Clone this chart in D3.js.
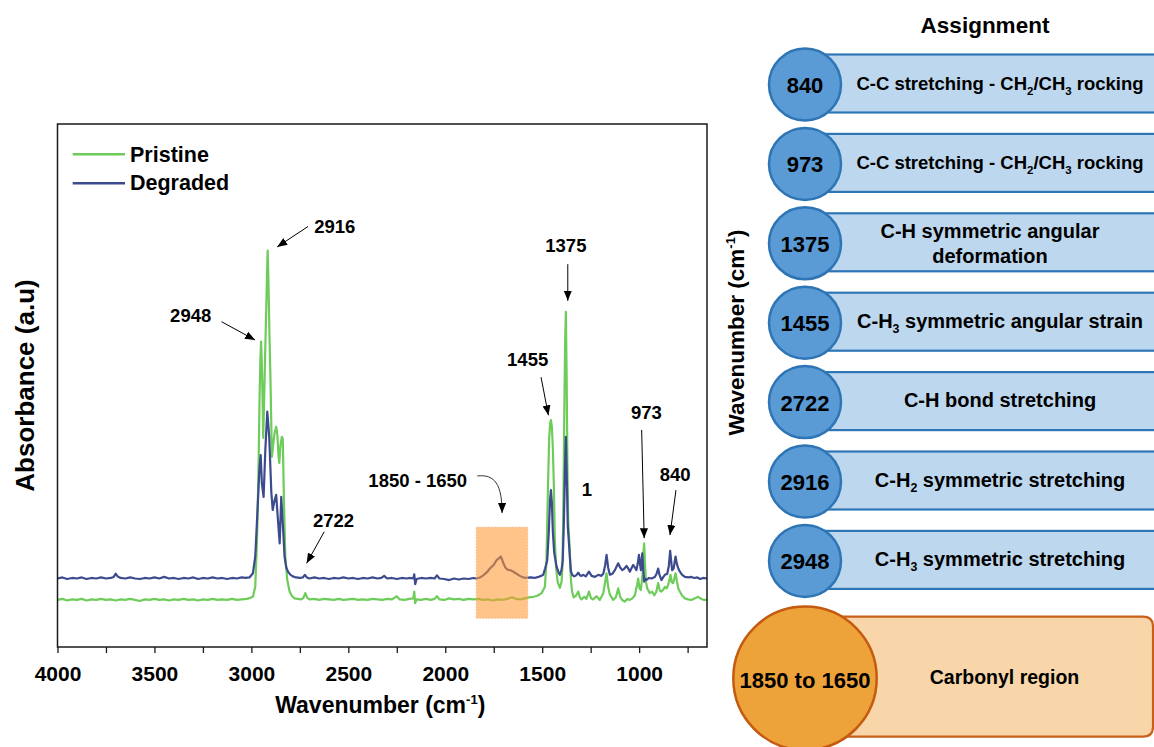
<!DOCTYPE html>
<html><head><meta charset="utf-8">
<script src="https://cdn.jsdelivr.net/npm/d3@7"></script>
<style>
body{margin:0;background:#fff;}
svg{display:block;font-family:"Liberation Sans",Arial,sans-serif;font-weight:bold;}
</style></head><body>
<svg id="chart" width="1154" height="747"></svg>
<script>
// ---------------- DATA ----------------
const seriesNames = ["Pristine", "Degraded"];
// [wavenumber (cm-1), absorbance (a.u.)]
const pristine = [[4000,.090],[3975,.092],[3950,.089],[3925,.091],[3900,.090],[3875,.092],[3850,.089],[3825,.091],[3800,.090],[3775,.092],[3750,.090],[3725,.091],[3700,.089],[3675,.091],[3650,.090],[3625,.092],[3600,.090],[3575,.088],[3550,.091],[3525,.090],[3500,.092],[3475,.090],[3450,.091],[3425,.089],[3400,.091],[3375,.090],[3350,.092],[3325,.090],[3300,.091],[3275,.089],[3250,.091],[3225,.090],[3200,.092],[3175,.090],[3150,.091],[3125,.090],[3100,.092],[3075,.090],[3050,.091],[3025,.092],[3005,.094],
[2992,.096],[2980,.115],[2970,.217],[2963,.345],[2958,.472],[2954,.545],[2950,.584],[2946,.540],[2942,.470],[2939,.400],[2935,.460],[2929,.560],[2923,.650],[2919,.720],[2916,.758],[2912,.700],[2907,.600],[2902,.520],[2898,.440],[2894,.364],[2888,.385],[2880,.410],[2872,.421],[2866,.405],[2860,.365],[2856,.352],[2850,.385],[2843,.402],[2838,.398],[2832,.281],[2825,.173],[2815,.128],[2803,.106],[2790,.097],[2777,.093],[2760,.092],[2745,.091],[2733,.093],[2722,.103],[2712,.094],[2700,.091],[2675,.092],[2650,.090],[2625,.092],[2600,.091],[2575,.090],[2550,.092],[2525,.090],[2500,.091],[2475,.092],[2450,.090],[2425,.091],[2400,.090],[2375,.092],[2350,.091],[2325,.090],[2300,.092],[2275,.091],[2250,.097],[2235,.091],[2210,.090],[2185,.092],[2165,.093],[2160,.106],[2155,.084],[2148,.091],[2125,.090],[2100,.092],[2075,.090],[2055,.092],[2043,.097],[2030,.091],[2005,.090],[1980,.093],[1955,.091],[1930,.092],[1905,.090],[1880,.092],[1855,.091],[1830,.092],[1805,.090],[1780,.091],[1755,.089],[1730,.091],[1705,.090],[1680,.092],[1655,.095],[1635,.092],[1610,.091],[1590,.093],[1570,.095],[1545,.096],[1525,.098],[1503,.103],[1486,.115],[1478,.166],[1471,.294],[1464,.400],[1459,.428],[1455,.434],[1450,.420],[1445,.380],[1440,.310],[1435,.205],[1428,.150],[1420,.124],[1409,.113],[1400,.125],[1395,.160],[1390,.300],[1386,.450],[1382,.580],[1378,.641],[1374,.520],[1370,.350],[1366,.240],[1362,.215],[1357,.175],[1352,.130],[1346,.106],[1338,.095],[1326,.098],[1314,.106],[1305,.094],[1297,.091],[1283,.096],[1272,.092],[1259,.106],[1248,.093],[1237,.091],[1220,.097],[1203,.090],[1185,.103],[1175,.125],[1168,.141],[1160,.115],[1151,.100],[1134,.090],[1120,.095],[1108,.112],[1098,.096],[1088,.090],[1074,.087],[1060,.092],[1048,.090],[1035,.093],[1022,.099],[1010,.120],[1005,.131],[998,.112],[991,.109],[982,.140],[977,.185],[974,.198],[970,.160],[965,.125],[958,.112],[945,.103],[933,.106],[922,.099],[912,.105],[902,.122],[893,.108],[885,.106],[875,.110],[867,.115],[858,.112],[850,.119],[843,.130],[838,.138],[832,.124],[825,.122],[818,.132],[812,.141],[805,.125],[798,.112],[790,.106],[778,.098],[764,.093],[748,.091],[730,.090],[712,.093],[696,.096],[680,.092],[665,.090],[650,.090]];

const degraded = [[4000,.131],[3975,.133],[3950,.130],[3925,.132],[3900,.131],[3875,.133],[3850,.130],[3825,.132],[3800,.131],[3775,.133],[3750,.131],[3725,.132],[3710,.134],[3700,.140],[3690,.135],[3675,.132],[3650,.131],[3625,.133],[3600,.131],[3575,.130],[3550,.132],[3525,.131],[3500,.133],[3475,.131],[3450,.134],[3425,.131],[3400,.132],[3375,.130],[3350,.132],[3325,.131],[3300,.133],[3275,.130],[3250,.132],[3225,.131],[3200,.133],[3175,.131],[3150,.132],[3125,.130],[3100,.132],[3075,.131],[3050,.133],[3030,.132],[3010,.133],
[2992,.141],[2980,.173],[2970,.249],[2958,.345],[2952,.367],[2946,.314],[2937,.287],[2928,.377],[2918,.450],[2908,.402],[2897,.295],[2890,.262],[2880,.281],[2872,.291],[2863,.243],[2854,.198],[2846,.287],[2837,.230],[2829,.173],[2820,.152],[2811,.144],[2798,.138],[2786,.135],[2770,.133],[2750,.132],[2735,.133],[2724,.138],[2714,.133],[2700,.131],[2675,.133],[2650,.131],[2625,.132],[2600,.130],[2575,.132],[2550,.131],[2525,.133],[2500,.131],[2475,.132],[2450,.130],[2425,.132],[2400,.131],[2375,.133],[2350,.131],[2330,.132],[2315,.136],[2300,.131],[2275,.132],[2250,.130],[2225,.132],[2200,.131],[2180,.132],[2165,.131],[2160,.139],[2155,.120],[2148,.130],[2125,.132],[2100,.131],[2075,.132],[2055,.131],[2043,.137],[2030,.131],[2005,.130],[1980,.128],[1955,.131],[1930,.129],[1905,.131],[1880,.130],[1855,.132],[1840,.131],[1820,.133],[1804,.137],[1785,.143],[1770,.150],[1750,.157],[1735,.166],[1722,.170],[1713,.173],[1706,.166],[1700,.160],[1690,.152],[1680,.148],[1668,.147],[1658,.146],[1645,.143],[1632,.140],[1615,.136],[1598,.133],[1580,.132],[1560,.133],[1540,.132],[1520,.134],[1505,.136],[1495,.138],[1485,.150],[1474,.166],[1466,.220],[1460,.280],[1455,.300],[1450,.275],[1445,.220],[1438,.180],[1426,.154],[1415,.142],[1409,.138],[1400,.148],[1394,.166],[1388,.240],[1382,.350],[1378,.402],[1373,.320],[1368,.230],[1362,.199],[1357,.170],[1352,.145],[1345,.138],[1335,.135],[1325,.137],[1314,.142],[1305,.137],[1297,.136],[1288,.138],[1275,.135],[1259,.144],[1245,.136],[1228,.134],[1211,.138],[1195,.136],[1185,.140],[1176,.155],[1168,.176],[1160,.152],[1151,.138],[1138,.140],[1125,.147],[1115,.155],[1108,.160],[1098,.152],[1087,.147],[1076,.150],[1065,.155],[1056,.150],[1048,.144],[1040,.150],[1031,.157],[1022,.152],[1014,.147],[1007,.160],[1001,.176],[996,.160],[991,.147],[987,.165],[984,.179],[979,.150],[974,.125],[968,.130],[962,.128],[950,.132],[936,.131],[925,.133],[919,.134],[910,.140],[902,.150],[895,.138],[885,.128],[875,.134],[867,.138],[855,.140],[847,.155],[840,.184],[835,.165],[830,.147],[822,.150],[816,.165],[812,.173],[806,.160],[798,.150],[790,.144],[778,.138],[764,.134],[745,.133],[730,.134],[715,.132],[700,.133],[685,.130],[670,.132],[650,.131]];

const xTickValues = [4000,3750,3500,3250,3000,2750,2500,2250,2000,1750,1500,1250,1000,750];
const xTickLabels = ["4000","","3500","","3000","","2500","","2000","","1500","","1000",""];

// peak annotations: label position and arrow (in data coordinates)
const annoLabels = ["2916","2948","1375","1455","973","840","2722","1"];
const annoLabelPos = [[2570,.792],[3313,.621],[1378,.756],[1575,.537],[963,.435],[814,.317],[2576,.230],[1270,.289]];
const annoArrowFrom = [[2708,.804],[3154,.622],[1368,.732],[1506,.516],[987,.415],[810,.300],[2624,.2205],null];
const annoArrowTo   = [[2867,.765],[2981,.587],[1368,.662],[1468,.443],[974,.208],[841,.214],[2715,.160],null];

const carbonylLabel = "1850 - 1650";
const carbonylLabelPos = [2142,.3065];
const carbonylCurve = [[1835,.327],[1743,.331],[1707,.310],[1707,.256]];
const carbonylBox = [1840,1575,.229,.055]; // wn from, wn to, abs top, abs bottom

// assignment table
const assignWn = ["840","973","1375","1455","2722","2916","2948"];
const assignText = ["C-C stretching - CH_2/CH_3 rocking","C-C stretching - CH_2/CH_3 rocking","C-H symmetric angular|deformation","C-H_3 symmetric angular strain","C-H bond stretching","C-H_2 symmetric stretching","C-H_3 symmetric stretching"];
const carbonylWn = "1850 to 1650";
const carbonylText = "Carbonyl region";

// ---------------- DRAW ----------------
const svg = d3.select("#chart");
const plot = {left:57.5, right:707, top:124, bottom:647};

const x = d3.scaleLinear().domain([4000,650]).range([plot.left, plot.right]);
const y = d3.scaleLinear().domain([0,1]).range([plot.bottom, plot.top]);

const green = "#6DCC5A", blue = "#3C4A8E";

const defs = svg.append("defs");
defs.append("clipPath").attr("id","clip")
  .append("rect").attr("x",plot.left).attr("y",plot.top)
  .attr("width",plot.right-plot.left).attr("height",plot.bottom-plot.top);

const marker = defs.append("marker").attr("id","arrow")
  .attr("viewBox","0 0 10 8").attr("refX",10).attr("refY",4)
  .attr("markerWidth",10).attr("markerHeight",8).attr("markerUnits","userSpaceOnUse")
  .attr("orient","auto");
marker.append("path").attr("d","M0,0 L10,4 L0,8 Z").attr("fill","#000");

const line = d3.line().x(d=>x(d[0])).y(d=>y(d[1]));
const gLines = svg.append("g").attr("clip-path","url(#clip)");
gLines.append("path").datum(pristine).attr("d",line).attr("fill","none")
  .attr("stroke",green).attr("stroke-width",2.2).attr("stroke-linejoin","round");
gLines.append("path").datum(degraded).attr("d",line).attr("fill","none")
  .attr("stroke",blue).attr("stroke-width",2.2).attr("stroke-linejoin","round");

// carbonyl box
svg.append("rect")
  .attr("x",x(carbonylBox[0])).attr("width",x(carbonylBox[1])-x(carbonylBox[0]))
  .attr("y",y(carbonylBox[2])).attr("height",y(carbonylBox[3])-y(carbonylBox[2]))
  .attr("fill","#FF9933").attr("fill-opacity",0.58)
  .attr("stroke","#F6B57A").attr("stroke-width",1).attr("stroke-dasharray","1.5,1.5");

// frame
svg.append("rect").attr("x",plot.left).attr("y",plot.top)
  .attr("width",plot.right-plot.left).attr("height",plot.bottom-plot.top)
  .attr("fill","none").attr("stroke","#1a1a1a").attr("stroke-width",1.5);

// x axis
const xAxis = d3.axisBottom(x).tickValues(xTickValues).tickSize(6).tickPadding(13)
  .tickFormat((d,i)=>xTickLabels[i]);
const gx = svg.append("g").attr("transform",`translate(0,${plot.bottom})`).call(xAxis);
gx.select(".domain").remove();
gx.selectAll(".tick line").attr("stroke","#1a1a1a").attr("stroke-width",1.3);
gx.selectAll(".tick text").attr("font-size",21).attr("font-weight","bold")
  .attr("font-family","'Liberation Sans',Arial,sans-serif").attr("fill","#000");

// axis titles
const xt = svg.append("text").attr("x",(plot.left+plot.right)/2-2).attr("y",713)
  .attr("text-anchor","middle").attr("font-size",23);
xt.append("tspan").text("Wavenumber (cm");
xt.append("tspan").attr("font-size",13).attr("dy",-9).text("-1");
xt.append("tspan").attr("dy",9).text(")");

svg.append("text").attr("transform","translate(33.5,385.5) rotate(-90)")
  .attr("text-anchor","middle").attr("font-size",26).text("Absorbance (a.u)");

// legend
const legendColors = [green, blue];
seriesNames.forEach((n,i)=>{
  svg.append("line").attr("x1",72.7).attr("x2",125).attr("y1",154.3+i*29).attr("y2",154.3+i*29)
    .attr("stroke",legendColors[i]).attr("stroke-width",2.4);
  svg.append("text").attr("x",130).attr("y",161.7+i*28.5).attr("font-size",21.5).text(n);
});

// annotations
annoLabels.forEach((t,i)=>{
  svg.append("text").attr("x",x(annoLabelPos[i][0])).attr("y",y(annoLabelPos[i][1]))
    .attr("text-anchor","middle").attr("font-size",18.5).text(t);
  if(annoArrowFrom[i]){
    svg.append("line")
      .attr("x1",x(annoArrowFrom[i][0])).attr("y1",y(annoArrowFrom[i][1]))
      .attr("x2",x(annoArrowTo[i][0])).attr("y2",y(annoArrowTo[i][1]))
      .attr("stroke","#000").attr("stroke-width",1).attr("marker-end","url(#arrow)");
  }
});
svg.append("text").attr("x",x(carbonylLabelPos[0])).attr("y",y(carbonylLabelPos[1]))
  .attr("text-anchor","middle").attr("font-size",18.5).text(carbonylLabel);
const cp = carbonylCurve.map(p=>[x(p[0]),y(p[1])]);
svg.append("path").attr("d",`M${cp[0]}C${cp[1]} ${cp[2]} ${cp[3]}`)
  .attr("fill","none").attr("stroke","#333").attr("stroke-width",1).attr("marker-end","url(#arrow)");

// ---------------- ASSIGNMENT PANEL ----------------
const rowY = d3.scaleLinear().domain([0,6]).range([84.5,560.9]);
const circX = 805, circR = 36, barRight = 1175, textX = 1000;
const bFill="#5B9BD5", bStroke="#2E75B6", barFill="#BDD7EE";

svg.append("text").attr("x",985).attr("y",32.7).attr("text-anchor","middle")
  .attr("font-size",22.5).text("Assignment");

const rt = svg.append("text").attr("transform","translate(744,332.5) rotate(-90)")
  .attr("text-anchor","middle").attr("font-size",22.5);
rt.append("tspan").text("Wavenumber (cm");
rt.append("tspan").attr("font-size",13).attr("dy",-9).text("-1");
rt.append("tspan").attr("dy",9).text(")");

function richText(sel, str, fs){
  const parts = str.split(/(_\d)/).filter(p=>p.length);
  let shifted = false;
  parts.forEach(p=>{
    if(p[0]==="_"){
      sel.append("tspan").attr("font-size",fs*0.62).attr("dy",shifted?0:5).text(p.slice(1));
      shifted = true;
    } else {
      sel.append("tspan").attr("font-size",fs).attr("dy",shifted?-5:0).text(p);
      shifted = false;
    }
  });
}

assignWn.forEach((wn,i)=>{
  const cy = rowY(i);
  svg.append("rect").attr("x",circX).attr("y",cy-30).attr("width",barRight-circX).attr("height",58)
    .attr("fill",barFill).attr("stroke",bStroke).attr("stroke-width",2.2);
  svg.append("circle").attr("cx",circX).attr("cy",cy).attr("r",circR)
    .attr("fill",bFill).attr("stroke",bStroke).attr("stroke-width",2.5);
  svg.append("text").attr("x",circX).attr("y",cy+8.5).attr("text-anchor","middle")
    .attr("font-size",22).text(wn);
  const lines = assignText[i].split("|");
  const longest = d3.max(lines, l=>l.length);
  const fs = longest > 30 ? 18.5 : 20;
  lines.forEach((ln,j)=>{
    const t = svg.append("text")
      .attr("x", lines.length>1 ? 990 : textX)
      .attr("y", lines.length>1 ? cy-5+j*25 : cy+5)
      .attr("text-anchor","middle").attr("font-size",fs);
    richText(t, ln, fs);
  });
});

// carbonyl row
const oy = 678.3, oR = 71.7;
svg.append("path")
  .attr("d",`M${circX},616.7 H1143 Q1153,616.7 1153,626.7 V726.7 Q1153,736.7 1143,736.7 H${circX} Z`)
  .attr("fill","#F8D6A9").attr("stroke","#C8601A").attr("stroke-width",2.2);
svg.append("circle").attr("cx",circX).attr("cy",oy).attr("r",oR)
  .attr("fill","#EDA33A").attr("stroke","#C55A11").attr("stroke-width",2.5);
svg.append("text").attr("x",circX).attr("y",688).attr("text-anchor","middle")
  .attr("font-size",22).text(carbonylWn);
svg.append("text").attr("x",1004.5).attr("y",684.3).attr("text-anchor","middle")
  .attr("font-size",19.5).text(carbonylText);
</script>
</body></html>
